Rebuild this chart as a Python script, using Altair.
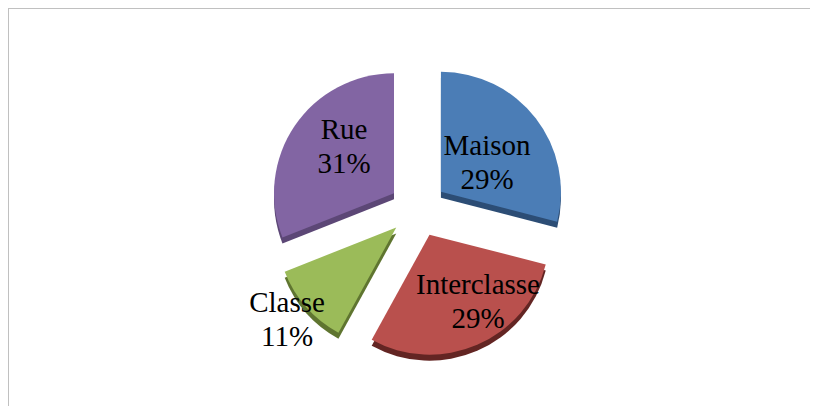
import math
import altair as alt
import pandas as pd

categories = ["Maison", "Interclasse", "Classe", "Rue"]
values = [29, 29, 11, 31]
face_colors = ["#4b7db6", "#b9504d", "#9bbb59", "#8265a3"]
side_colors = ["#2c4d75", "#632523", "#5f7530", "#5c4776"]
label_first_line = [(479, 138), (470, 277), (279, 295), (336, 122)]

CX, CY = 410, 201
RADIUS = 120
EXPLODE_X, EXPLODE_Y = 29, 28
DEPTH = 6

rows = []
acc = 0
total = sum(values)
for i, (c, v) in enumerate(zip(categories, values)):
    t0 = acc / total * 2 * math.pi
    acc += v
    t1 = acc / total * 2 * math.pi
    mid = (t0 + t1) / 2
    ax = CX + EXPLODE_X * math.sin(mid)
    ay = CY - EXPLODE_Y * math.cos(mid)
    rows.append({
        "cat": c, "t0": t0, "t1": t1,
        "ax": ax, "ay": ay, "ay2": ay + DEPTH,
        "face": face_colors[i], "side": side_colors[i],
        "lx": label_first_line[i][0], "ly": label_first_line[i][1],
        "label": f"{c}\n{v}%",
    })
df = pd.DataFrame(rows)
base = alt.Chart(df)


def slice_layer(y_field, color_field):
    return base.mark_arc(outerRadius=RADIUS).encode(
        theta=alt.Theta("t0:Q", scale=None, stack=None),
        theta2=alt.Theta2("t1:Q"),
        x=alt.X("ax:Q", scale=None),
        y=alt.Y(f"{y_field}:Q", scale=None),
        color=alt.Color(f"{color_field}:N", scale=None),
    )


side = slice_layer("ay2", "side")
face = slice_layer("ay", "face")
labels = base.mark_text(
    font="Liberation Serif", fontSize=29, color="black",
    lineBreak="\n", lineHeight=34, align="center", baseline="middle",
).encode(
    x=alt.X("lx:Q", scale=None),
    y=alt.Y("ly:Q", scale=None),
    text="label:N",
)
frame_color = "#c0c0c0"
anchor = pd.DataFrame({"a": [0]})
top = alt.Chart(anchor).mark_rule(color=frame_color, strokeWidth=2).encode(
    x=alt.value(0), x2=alt.value(802), y=alt.value(0))
left = alt.Chart(anchor).mark_rule(color=frame_color, strokeWidth=2).encode(
    y=alt.value(0), y2=alt.value(398), x=alt.value(0))

chart = (top + left + side + face + labels).properties(
    width=802, height=398,
    padding=0,
    autosize=alt.AutoSizeParams(type="none"),
    background="white",
).configure_view(stroke=None)

chart.save("out.html", embed_options={"renderer": "svg", "actions": False})
